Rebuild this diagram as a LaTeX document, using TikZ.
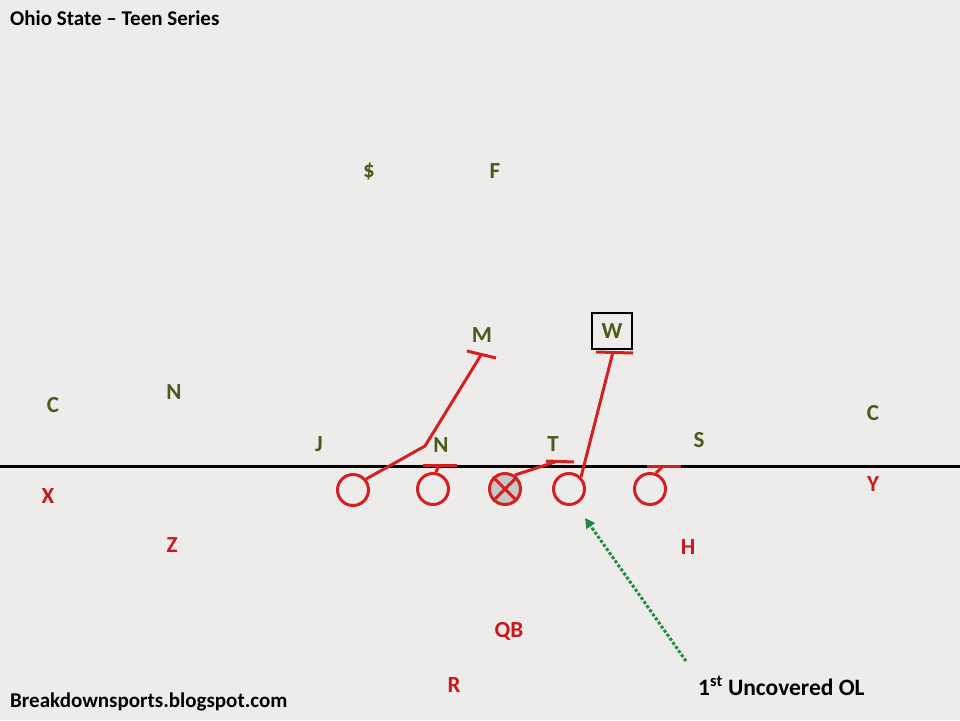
\documentclass[tikz,border=0pt]{standalone}
\usepackage{fontspec}
\setmainfont{Carlito}
\usetikzlibrary{arrows.meta}
\definecolor{bg}{HTML}{EEECEA}
\definecolor{olive}{HTML}{4E5A1C}
\definecolor{offred}{HTML}{C8181C}
\definecolor{lred}{HTML}{D42020}
\definecolor{grn}{HTML}{1E8C40}
\begin{document}
\begin{tikzpicture}[x=1pt,y=-1pt,
  def/.style={text=olive,font=\fontsize{23}{25}\selectfont\bfseries,inner sep=1pt},
  off/.style={text=offred,font=\fontsize{23}{25}\selectfont\bfseries,inner sep=1pt},
  lineman/.style={circle,draw=lred,line width=3pt,minimum size=31pt,inner sep=0pt},
  block/.style={draw=lred,line width=3pt},
  note/.style={text=black,font=\fontsize{21}{23}\selectfont\bfseries,inner sep=0pt}]
\fill[bg] (0,0) rectangle (960,720);
\useasboundingbox (0,0) rectangle (960,720);
% titles
\node[note,anchor=west] (title) at (10,18) {Ohio State – Teen Series};
\node[note,anchor=west] (site) at (10,702) {Breakdownsports.blogspot.com};
% defense
\node[def] (dollar) at (369,171) {\$};
\node[def] (F) at (495,171) {F};
\node[def] (M) at (482,335) {M};
\node[def,draw=black,line width=2pt,minimum width=40pt,minimum height=36pt] (W) at (612,331) {W};
\node[def] (C1) at (53,405) {C};
\node[def] (N1) at (174,392) {N};
\node[def] (C2) at (873,413) {C};
\node[def] (J) at (319,444) {J};
\node[def] (N2) at (441,445) {N};
\node[def] (T) at (553,444) {T};
\node[def] (S) at (699,440) {S};
% line of scrimmage
\coordinate (losL) at (0,466);
\coordinate (losR) at (960,466);
\draw[black,line width=3pt] (losL) -- (losR);
% offense
\node[off] (X) at (48,496) {X};
\node[off] (Y) at (873,484) {Y};
\node[off] (Z) at (172,545) {Z};
\node[off] (H) at (688,547) {H};
\node[off] (QB) at (509,631) {QB};
\node[off] (R) at (454,685) {R};
% linemen
\node[lineman] (o1) at (353,490) {};
\node[lineman] (o2) at (433,489) {};
\node[lineman,fill=black!22] (o3) at (505,489) {};
\draw[lred,line width=3pt] (o3.45) -- (o3.225) (o3.135) -- (o3.315);
\node[lineman] (o4) at (569,489) {};
\node[lineman] (o5) at (650,489) {};
% blocks
\coordinate (k1) at (425,446);
\coordinate (e1) at (481,355);
\coordinate (b1a) at (467,351);
\coordinate (b1b) at (496,358);
\draw[block] (o1.40) -- (k1) -- (e1);
\draw[block] (b1a) -- (b1b);
\coordinate (e2) at (439,465);
\coordinate (b2a) at (423,465);
\coordinate (b2b) at (457,465);
\draw[block] (o2.80) -- (e2);
\draw[block] (b2a) -- (b2b);
\coordinate (e3) at (555,462);
\coordinate (b3a) at (546,461);
\coordinate (b3b) at (574,462);
\draw[block] (o3.55) -- (e3);
\draw[block] (b3a) -- (b3b);
\coordinate (e4) at (613,352);
\coordinate (b4a) at (596,352);
\coordinate (b4b) at (633,353);
\draw[block] (o4.45) -- (e4);
\draw[block] (b4a) -- (b4b);
\coordinate (e5) at (663,466);
\coordinate (b5a) at (647,466);
\coordinate (b5b) at (681,466);
\draw[block] (o5.70) -- (e5);
\draw[block] (b5a) -- (b5b);
% note arrow
\node[note,font=\fontsize{23.5}{25}\selectfont\bfseries,anchor=west] (uncov) at (698,686) {1\textsuperscript{st} Uncovered OL};
\coordinate (arrS) at (686,661);
\coordinate (arrE) at (585,518);
\draw[grn,line width=3pt,dotted,-{Triangle[length=10pt,width=10pt]}] (arrS) -- (arrE);
\end{tikzpicture}
\end{document}
